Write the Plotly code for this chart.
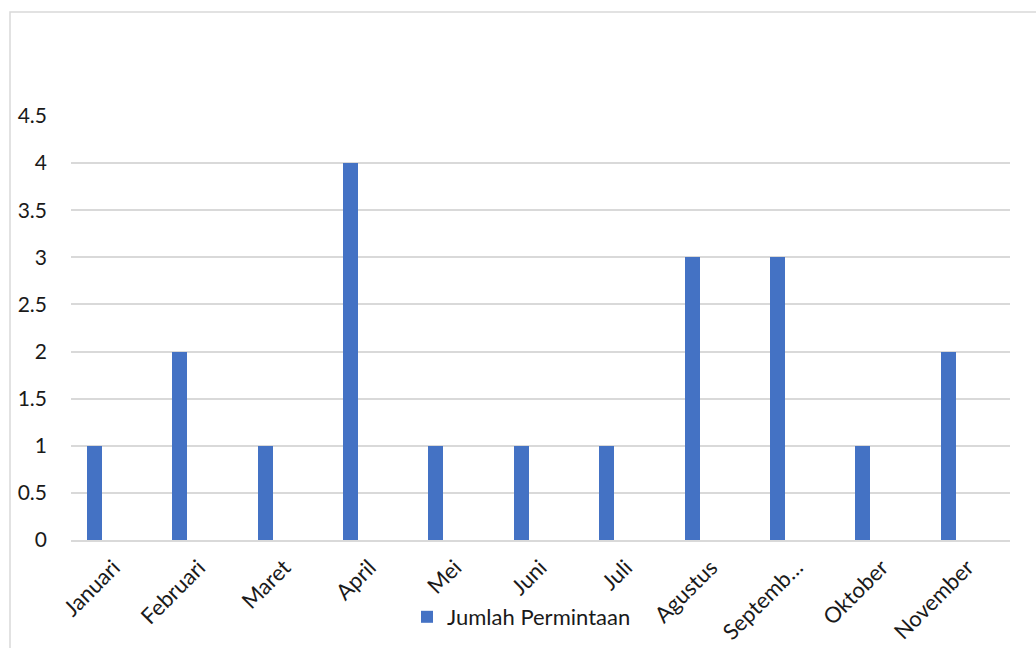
import plotly.graph_objects as go

categories = ["Januari", "Februari", "Maret", "April", "Mei", "Juni", "Juli",
              "Agustus", "September", "Oktober", "November"]
tick_labels = ["Januari", "Februari", "Maret", "April", "Mei", "Juni", "Juli",
               "Agustus", "Septemb…", "Oktober", "November"]
values = [1, 2, 1, 4, 1, 1, 1, 3, 3, 1, 2]
series_name = "Jumlah Permintaan"
y_ticks = [0, 0.5, 1, 1.5, 2, 2.5, 3, 3.5, 4, 4.5]
y_tick_text = ["0", "0.5", "1", "1.5", "2", "2.5", "3", "3.5", "4", "4.5"]

W, H = 1036, 648
L, R, T, B = 71, 26, 116, 108
pw, ph = W - L - R, H - T - B

FONT = "Lato"
fig = go.Figure()
fig.add_trace(go.Bar(
    x=categories, y=values, name=series_name,
    marker=dict(color="#4472C4", line=dict(width=0)),
    width=0.176, offset=-0.313,
))

def px_x(x):
    return (x - L) / pw

def px_y(y):
    return (H - B - y) / ph

fig.add_shape(type="rect", xref="paper", yref="paper",
              x0=px_x(10), x1=px_x(1045), y0=px_y(660), y1=px_y(12),
              line=dict(color="#D9D9D9", width=1.5), fillcolor="rgba(0,0,0,0)",
              layer="below")

fig.update_layout(
    width=W, height=H,
    margin=dict(l=L, r=R, t=T, b=B, autoexpand=False),
    paper_bgcolor="white", plot_bgcolor="white",
    font=dict(family=FONT, size=21, color="#1a1a1a"),
    showlegend=True,
    legend=dict(orientation="h", x=px_x(407), xanchor="left",
                y=px_y(617), yanchor="middle",
                font=dict(size=22, color="#1a1a1a"),
                bgcolor="rgba(0,0,0,0)", itemwidth=30),
    bargap=0,
    xaxis=dict(
        type="category", tickmode="array", tickvals=categories, ticktext=tick_labels,
        tickangle=-45, showgrid=False, showline=True, linecolor="#D9D9D9", linewidth=2,
        ticks="", ticklabelstandoff=4, tickfont=dict(size=22),
    ),
    yaxis=dict(
        range=[0, 4.5], tickmode="array", tickvals=y_ticks, ticktext=y_tick_text,
        showgrid=True, gridcolor="#D9D9D9", gridwidth=1.5, zeroline=False,
        showline=False, ticks="", ticklabelstandoff=23, tickfont=dict(size=21),
    ),
)

fig.write_html("out.html")
